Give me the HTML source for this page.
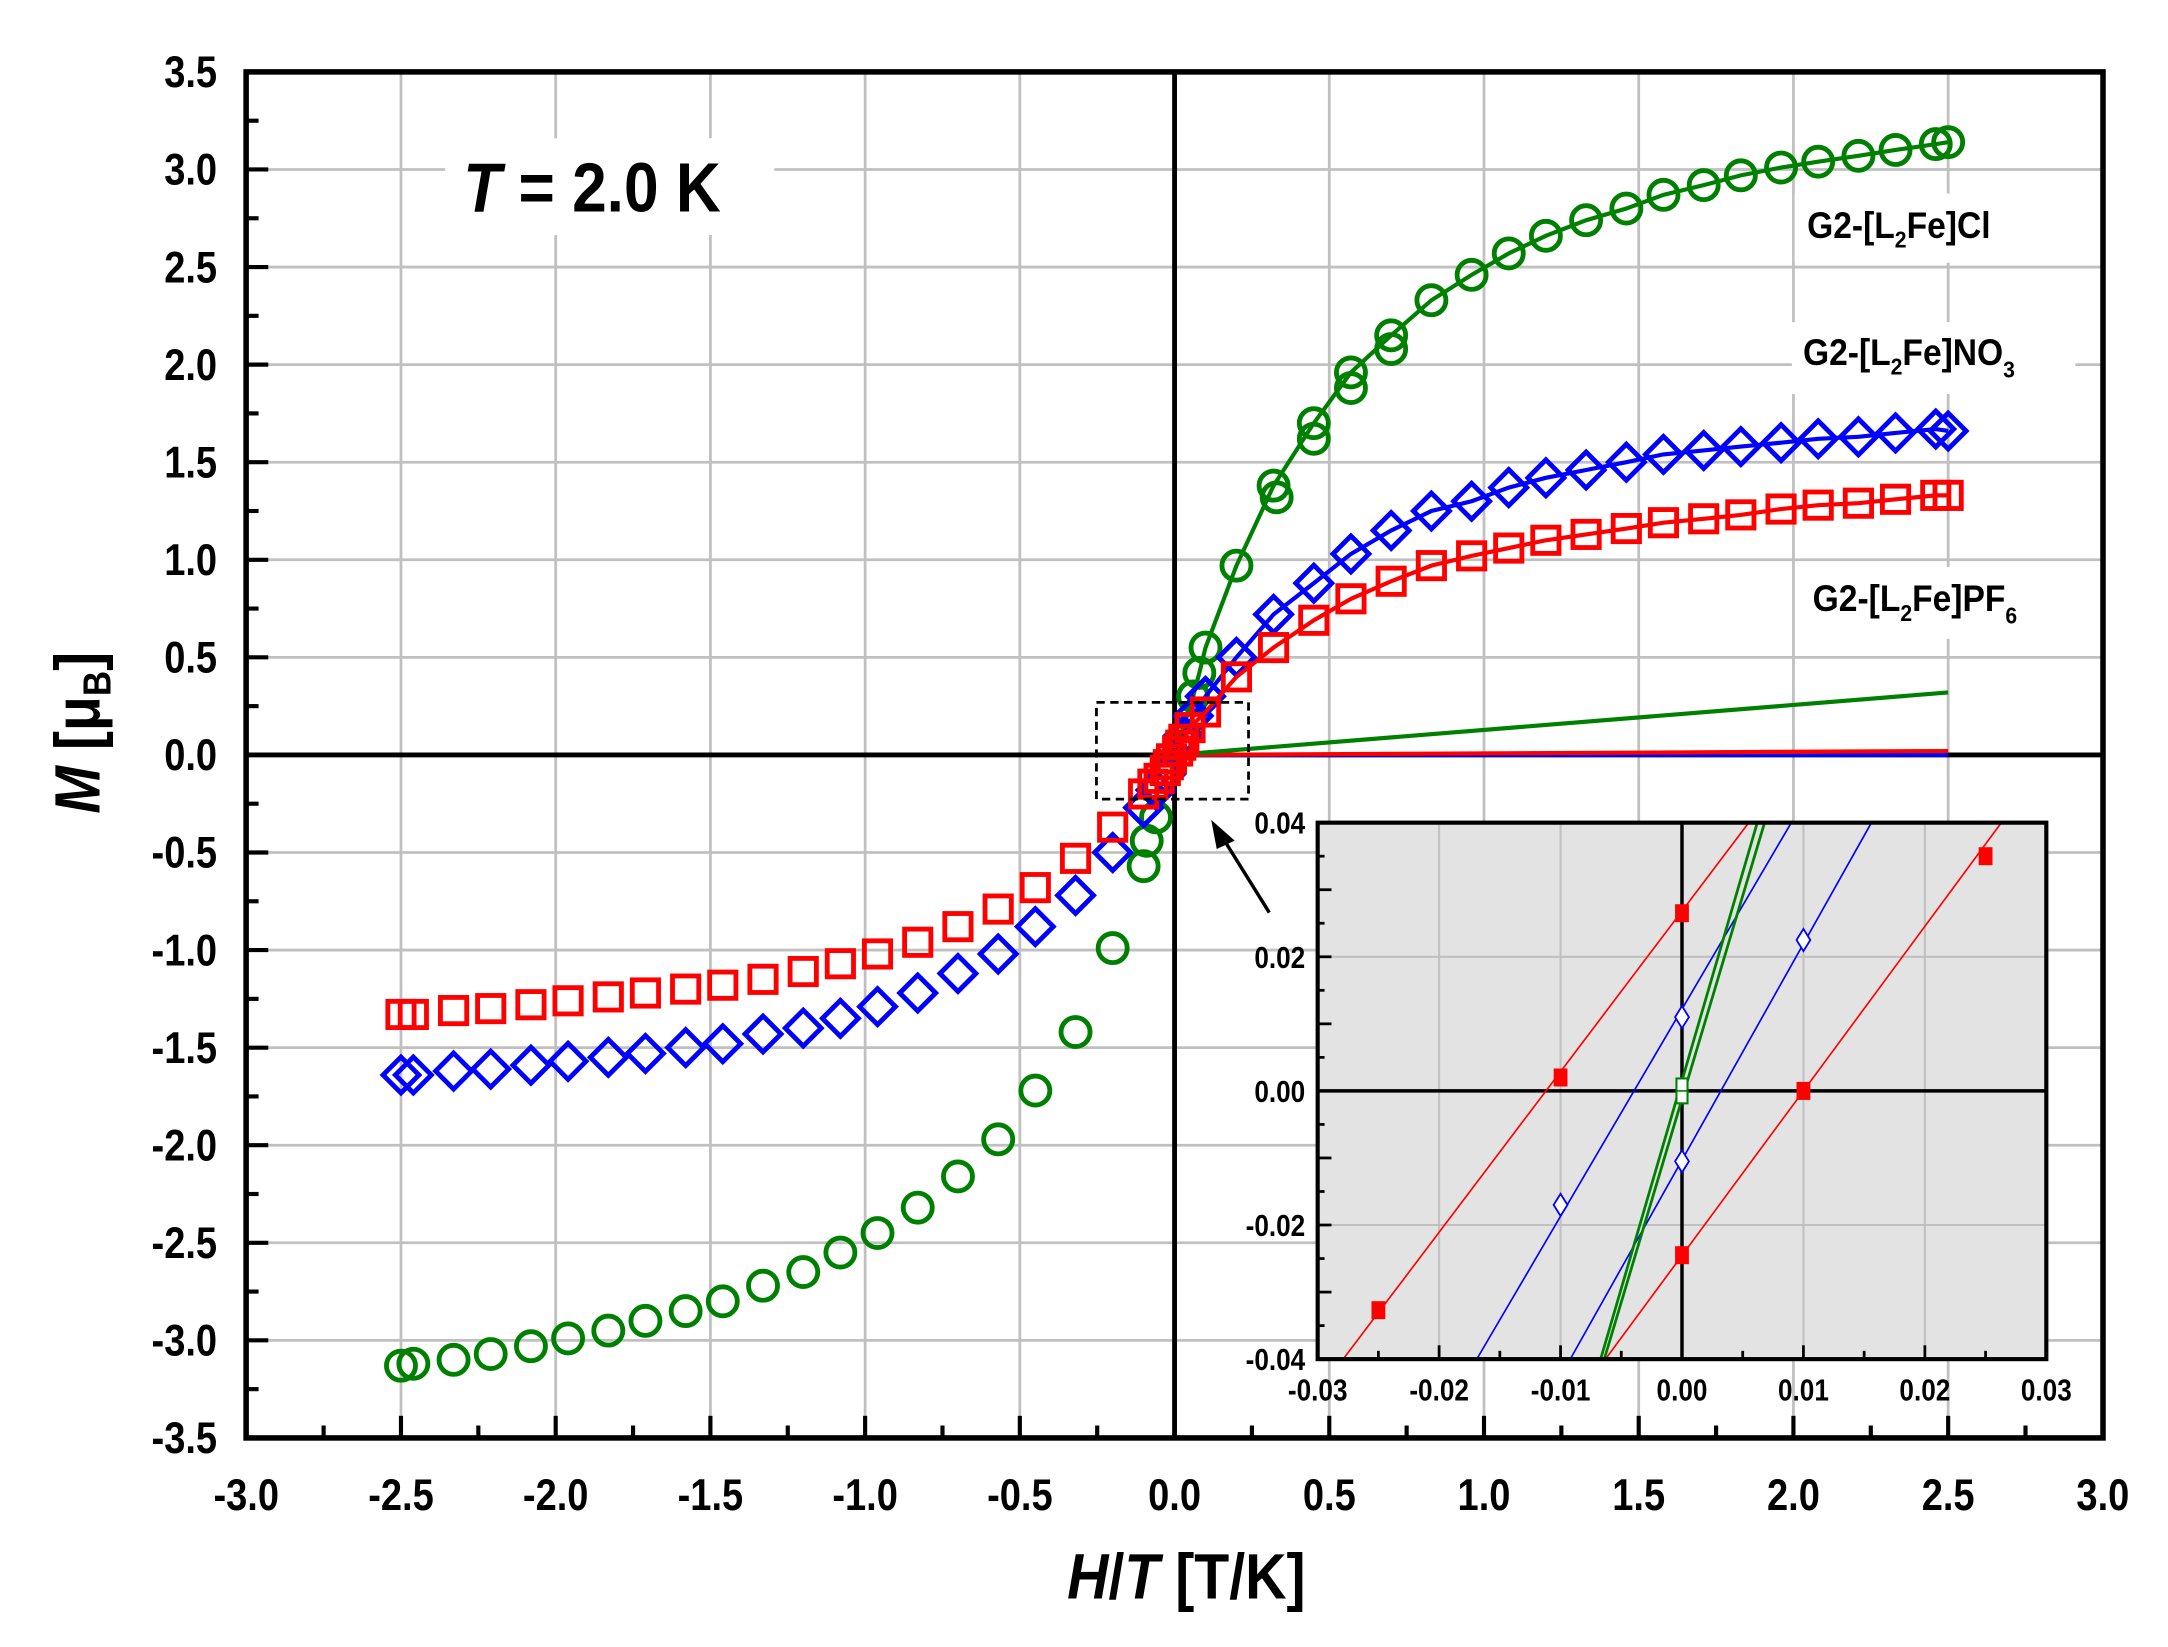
<!DOCTYPE html>
<html><head><meta charset="utf-8"><style>
html,body{margin:0;padding:0;background:#fff}
svg{display:block}
text{font-family:"Liberation Sans",Arial,sans-serif;font-weight:bold}
</style></head><body>
<svg id="s" width="2168" height="1647" viewBox="0 0 1568 1191.2" xmlns="http://www.w3.org/2000/svg"></svg>
<script>
var X=function(x){return 849.5+223.8*x}, Y=function(y){return 546-141.14*y};
var o=[];
function T(x,y,s,anc,txt,sx){return '<text transform="translate('+x+','+y+') scale('+(sx||0.86)+',1)" font-size="'+s+'" text-anchor="'+anc+'">'+txt+'</text>';}
for(var i=-5;i<=5;i++){if(i==0)continue;var gx=X(i*0.5);o.push('<line x1="'+gx+'" y1="52" x2="'+gx+'" y2="1040" stroke="#c0c0c0" stroke-width="2"/>');}
for(var i=-6;i<=6;i++){if(i==0)continue;var gy=Y(i*0.5);o.push('<line x1="178" y1="'+gy+'" x2="1521" y2="'+gy+'" stroke="#c0c0c0" stroke-width="2"/>');}
o.push('<rect x="322" y="100" width="238" height="70" fill="#fff"/>');
o.push('<rect x="1298" y="140" width="185" height="50" fill="#fff"/>');
o.push('<rect x="1296" y="233" width="205" height="52" fill="#fff"/>');
o.push('<rect x="1302" y="410" width="200" height="52" fill="#fff"/>');
o.push('<line x1="178" y1="546" x2="1521" y2="546" stroke="#000" stroke-width="3.5"/>');
o.push('<line x1="849.5" y1="52" x2="849.5" y2="1040" stroke="#000" stroke-width="3.5"/>');
for(var i=-12;i<=12;i++){var v=i*0.25,gx=X(v),L=(i%2==0)?16:9;o.push('<line x1="'+gx+'" y1="1040" x2="'+gx+'" y2="'+(1040-L)+'" stroke="#000" stroke-width="3"/>');}
for(var i=-14;i<=14;i++){var v=i*0.25,gy=Y(v),L=(i%2==0)?16:9;o.push('<line x1="178" y1="'+gy+'" x2="'+(178+L)+'" y2="'+gy+'" stroke="#000" stroke-width="3"/>');}
for(var i=-6;i<=6;i++){var v=(i*0.5).toFixed(1);o.push(T(X(i*0.5),1092,32,'middle',v));}
for(var i=-7;i<=7;i++){var v=(i*0.5).toFixed(1);o.push(T(157,Y(i*0.5)+11,32,'end',v));}
var G=[[0.06,0.3],[0.08,0.42],[0.1,0.55],[0.2,0.97],[0.32,1.38],[0.45,1.7],[0.57,1.96],[0.7,2.15],[0.83,2.33],[0.96,2.46],[1.08,2.57],[1.2,2.66],[1.33,2.74],[1.46,2.8],[1.58,2.87],[1.71,2.92],[1.83,2.97],[1.96,3.01],[2.08,3.04],[2.21,3.07],[2.33,3.1],[2.46,3.13],[2.5,3.14],
[-0.06,-0.32],[-0.09,-0.44],[-0.1,-0.57],[-0.2,-0.99],[-0.32,-1.42],[-0.45,-1.72],[-0.57,-1.97],[-0.7,-2.16],[-0.83,-2.32],[-0.96,-2.45],[-1.08,-2.55],[-1.2,-2.65],[-1.33,-2.72],[-1.46,-2.8],[-1.58,-2.85],[-1.71,-2.9],[-1.83,-2.95],[-1.96,-2.99],[-2.08,-3.03],[-2.21,-3.07],[-2.33,-3.1],[-2.46,-3.12],[-2.5,-3.13],[0.33,1.32],[0.7,2.08],[0.57,1.88],[0.45,1.62]];
var B=[[0.03,0.1],[0.06,0.2],[0.1,0.3],[0.2,0.5],[0.32,0.72],[0.45,0.88],[0.57,1.03],[0.7,1.15],[0.83,1.25],[0.96,1.3],[1.08,1.37],[1.2,1.42],[1.33,1.46],[1.46,1.5],[1.58,1.54],[1.71,1.56],[1.83,1.58],[1.96,1.6],[2.08,1.62],[2.21,1.63],[2.33,1.65],[2.46,1.67],[2.5,1.66],
[-0.03,-0.1],[-0.06,-0.18],[-0.1,-0.27],[-0.2,-0.5],[-0.32,-0.72],[-0.45,-0.88],[-0.57,-1.02],[-0.7,-1.12],[-0.83,-1.22],[-0.96,-1.29],[-1.08,-1.35],[-1.2,-1.4],[-1.33,-1.43],[-1.46,-1.48],[-1.58,-1.5],[-1.71,-1.53],[-1.83,-1.55],[-1.96,-1.57],[-2.08,-1.59],[-2.21,-1.61],[-2.33,-1.62],[-2.46,-1.64],[-2.5,-1.64]];
var R=[[0.01,0.02],[0.02,0.05],[0.03,0.08],[0.05,0.14],[0.1,0.22],[0.2,0.4],[0.32,0.55],[0.45,0.69],[0.57,0.8],[0.7,0.89],[0.83,0.97],[0.96,1.02],[1.08,1.06],[1.2,1.1],[1.33,1.13],[1.46,1.16],[1.58,1.19],[1.71,1.21],[1.83,1.23],[1.96,1.26],[2.08,1.28],[2.21,1.29],[2.33,1.31],[2.46,1.33],[2.5,1.33],
[-0.01,-0.02],[-0.02,-0.05],[-0.03,-0.08],[-0.05,-0.12],[-0.07,-0.15],[-0.1,-0.2],[-0.2,-0.37],[-0.32,-0.53],[-0.45,-0.68],[-0.57,-0.79],[-0.7,-0.88],[-0.83,-0.96],[-0.96,-1.02],[-1.08,-1.07],[-1.2,-1.11],[-1.33,-1.15],[-1.46,-1.18],[-1.58,-1.2],[-1.71,-1.22],[-1.83,-1.24],[-1.96,-1.26],[-2.08,-1.28],[-2.21,-1.3],[-2.33,-1.31],[-2.46,-1.33],[-2.5,-1.33]];
function line(d,c){var p=[[0,0]].concat(d.filter(function(a){return a[0]>0}).sort(function(a,b){return a[0]-b[0]}));return '<polyline fill="none" stroke="'+c+'" stroke-width="3" points="'+p.map(function(a){return X(a[0])+','+Y(a[1])}).join(' ')+'"/>';}
o.push('<line x1="'+X(0)+'" y1="'+Y(0)+'" x2="'+X(2.5)+'" y2="'+Y(0.0)+'" stroke="#0000ff" stroke-width="3"/>');
o.push('<line x1="'+X(0)+'" y1="'+Y(0)+'" x2="'+X(2.5)+'" y2="'+Y(0.02)+'" stroke="#ff0000" stroke-width="3"/>');
o.push('<line x1="'+X(0)+'" y1="'+Y(0)+'" x2="'+X(2.5)+'" y2="'+Y(0.32)+'" stroke="#008000" stroke-width="3"/>');
G.forEach(function(a){o.push('<circle cx="'+X(a[0])+'" cy="'+Y(a[1])+'" r="10.5" fill="none" stroke="#008000" stroke-width="3.5"/>');});
o.push(line(G.slice(0,23),'#008000'));
B.forEach(function(a){var x=X(a[0]),y=Y(a[1]);o.push('<polygon points="'+(x-13)+','+y+' '+x+','+(y-13)+' '+(x+13)+','+y+' '+x+','+(y+13)+'" fill="none" stroke="#0000ff" stroke-width="3.5"/>');});
o.push(line(B,'#0000ff'));
R.forEach(function(a){var x=X(a[0]),y=Y(a[1]);o.push('<rect x="'+(x-9.5)+'" y="'+(y-9.5)+'" width="19" height="19" fill="none" stroke="#ff0000" stroke-width="3.5"/>');});
o.push(line(R,'#ff0000'));
o.push('<rect x="178" y="52" width="1343" height="988" fill="none" stroke="#000" stroke-width="4"/>');
o.push(T(335,153,50,'start','<tspan font-style="italic">T</tspan> = 2.0 K',0.9));
o.push(T(1307,172,27,'start','G2-[L<tspan font-size="17" dy="7">2</tspan><tspan dy="-7">Fe]Cl</tspan>',0.9));
o.push(T(1304,264,27,'start','G2-[L<tspan font-size="17" dy="7">2</tspan><tspan dy="-7">Fe]NO</tspan><tspan font-size="17" dy="9">3</tspan>',0.9));
o.push(T(1311,442,27,'start','G2-[L<tspan font-size="17" dy="7">2</tspan><tspan dy="-7">Fe]PF</tspan><tspan font-size="17" dy="9">6</tspan>',0.9));
o.push(T(858,1156,46,'middle','<tspan font-style="italic">H</tspan>/<tspan font-style="italic">T</tspan> [T/K]',0.9));
o.push('<text transform="translate(72,530) rotate(-90) scale(0.9,1)" font-size="46" text-anchor="middle"><tspan font-style="italic">M</tspan> [μ<tspan font-size="28" dy="8">B</tspan><tspan dy="-8">]</tspan></text>');
o.push('<rect x="793" y="508" width="110" height="70" fill="none" stroke="#000" stroke-width="2" stroke-dasharray="6,4"/>');
o.push('<line x1="918" y1="660" x2="885" y2="607" stroke="#000" stroke-width="2.5"/><polygon points="876,593 893,608 880,614" fill="#000"/>');
var IX=function(x){return 1216.5+8783*x}, IY=function(y){return 789-4850*y};
o.push('<rect x="953" y="595" width="527" height="388" fill="#e3e3e3"/>');
[-0.02,-0.01,0.01,0.02].forEach(function(v){o.push('<line x1="'+IX(v)+'" y1="595" x2="'+IX(v)+'" y2="983" stroke="#c0c0c0" stroke-width="1.5"/>');});
[-0.02,0.02].forEach(function(v){o.push('<line x1="953" y1="'+IY(v)+'" x2="1480" y2="'+IY(v)+'" stroke="#c0c0c0" stroke-width="1.5"/>');});
o.push('<line x1="953" y1="789" x2="1480" y2="789" stroke="#000" stroke-width="2.5"/><line x1="1216.5" y1="595" x2="1216.5" y2="983" stroke="#000" stroke-width="2.5"/>');
function il(x1,y1,x2,y2,c,w){o.push('<line x1="'+IX(x1)+'" y1="'+IY(y1)+'" x2="'+IX(x2)+'" y2="'+IY(y2)+'" stroke="'+c+'" stroke-width="'+(w||1.2)+'"/>');}
il(-0.0279,-0.04,0.0055,0.04,'#ff0000');il(-0.0063,-0.04,0.0263,0.04,'#ff0000');
il(-0.0169,-0.04,0.009,0.04,'#0000ff');il(-0.0092,-0.04,0.0156,0.04,'#0000ff');
il(-0.0067,-0.04,0.0062,0.04,'#008000',2);il(-0.0064,-0.04,0.0068,0.04,'#008000',2);
[[-0.025,-0.0327],[-0.01,0.002],[0,0.0265],[0,-0.0245],[0.01,0.0],[0.025,0.035]].forEach(function(a){o.push('<rect x="'+(IX(a[0])-5)+'" y="'+(IY(a[1])-6.5)+'" width="10" height="13" fill="#ff0000"/>');});
[[-0.01,-0.017],[0,0.011],[0,-0.0105],[0.01,0.0225]].forEach(function(a){var x=IX(a[0]),y=IY(a[1]);o.push('<polygon points="'+(x-5)+','+y+' '+x+','+(y-8)+' '+(x+5)+','+y+' '+x+','+(y+8)+'" fill="#fff" stroke="#0000ff" stroke-width="1.3"/>');});
o.push('<rect x="1212.5" y="780" width="8" height="18" fill="#fff" stroke="#008000" stroke-width="1.5"/><line x1="1212.5" y1="789" x2="1220.5" y2="789" stroke="#008000" stroke-width="1.2"/>');
o.push('<rect x="953" y="595" width="527" height="388" fill="none" stroke="#000" stroke-width="3"/>');
for(var i=-6;i<=6;i++){var gx=IX(i*0.005),L=(i%2==0)?10:6;o.push('<line x1="'+gx+'" y1="983" x2="'+gx+'" y2="'+(983-L)+'" stroke="#000" stroke-width="2"/>');}
for(var i=-8;i<=8;i++){var gy=IY(i*0.005),L=(i%2==0)?10:5;o.push('<line x1="953" y1="'+gy+'" x2="'+(953+L)+'" y2="'+gy+'" stroke="#000" stroke-width="2"/>');}
[-0.03,-0.02,-0.01,0,0.01,0.02,0.03].forEach(function(v){o.push(T(IX(v),1013,22,'middle',v.toFixed(2)));});
[-0.04,-0.02,0,0.02,0.04].forEach(function(v){o.push(T(944,IY(v)+8,22,'end',v.toFixed(2)));});
document.getElementById('s').innerHTML=o.join('');
</script>
</body></html>
